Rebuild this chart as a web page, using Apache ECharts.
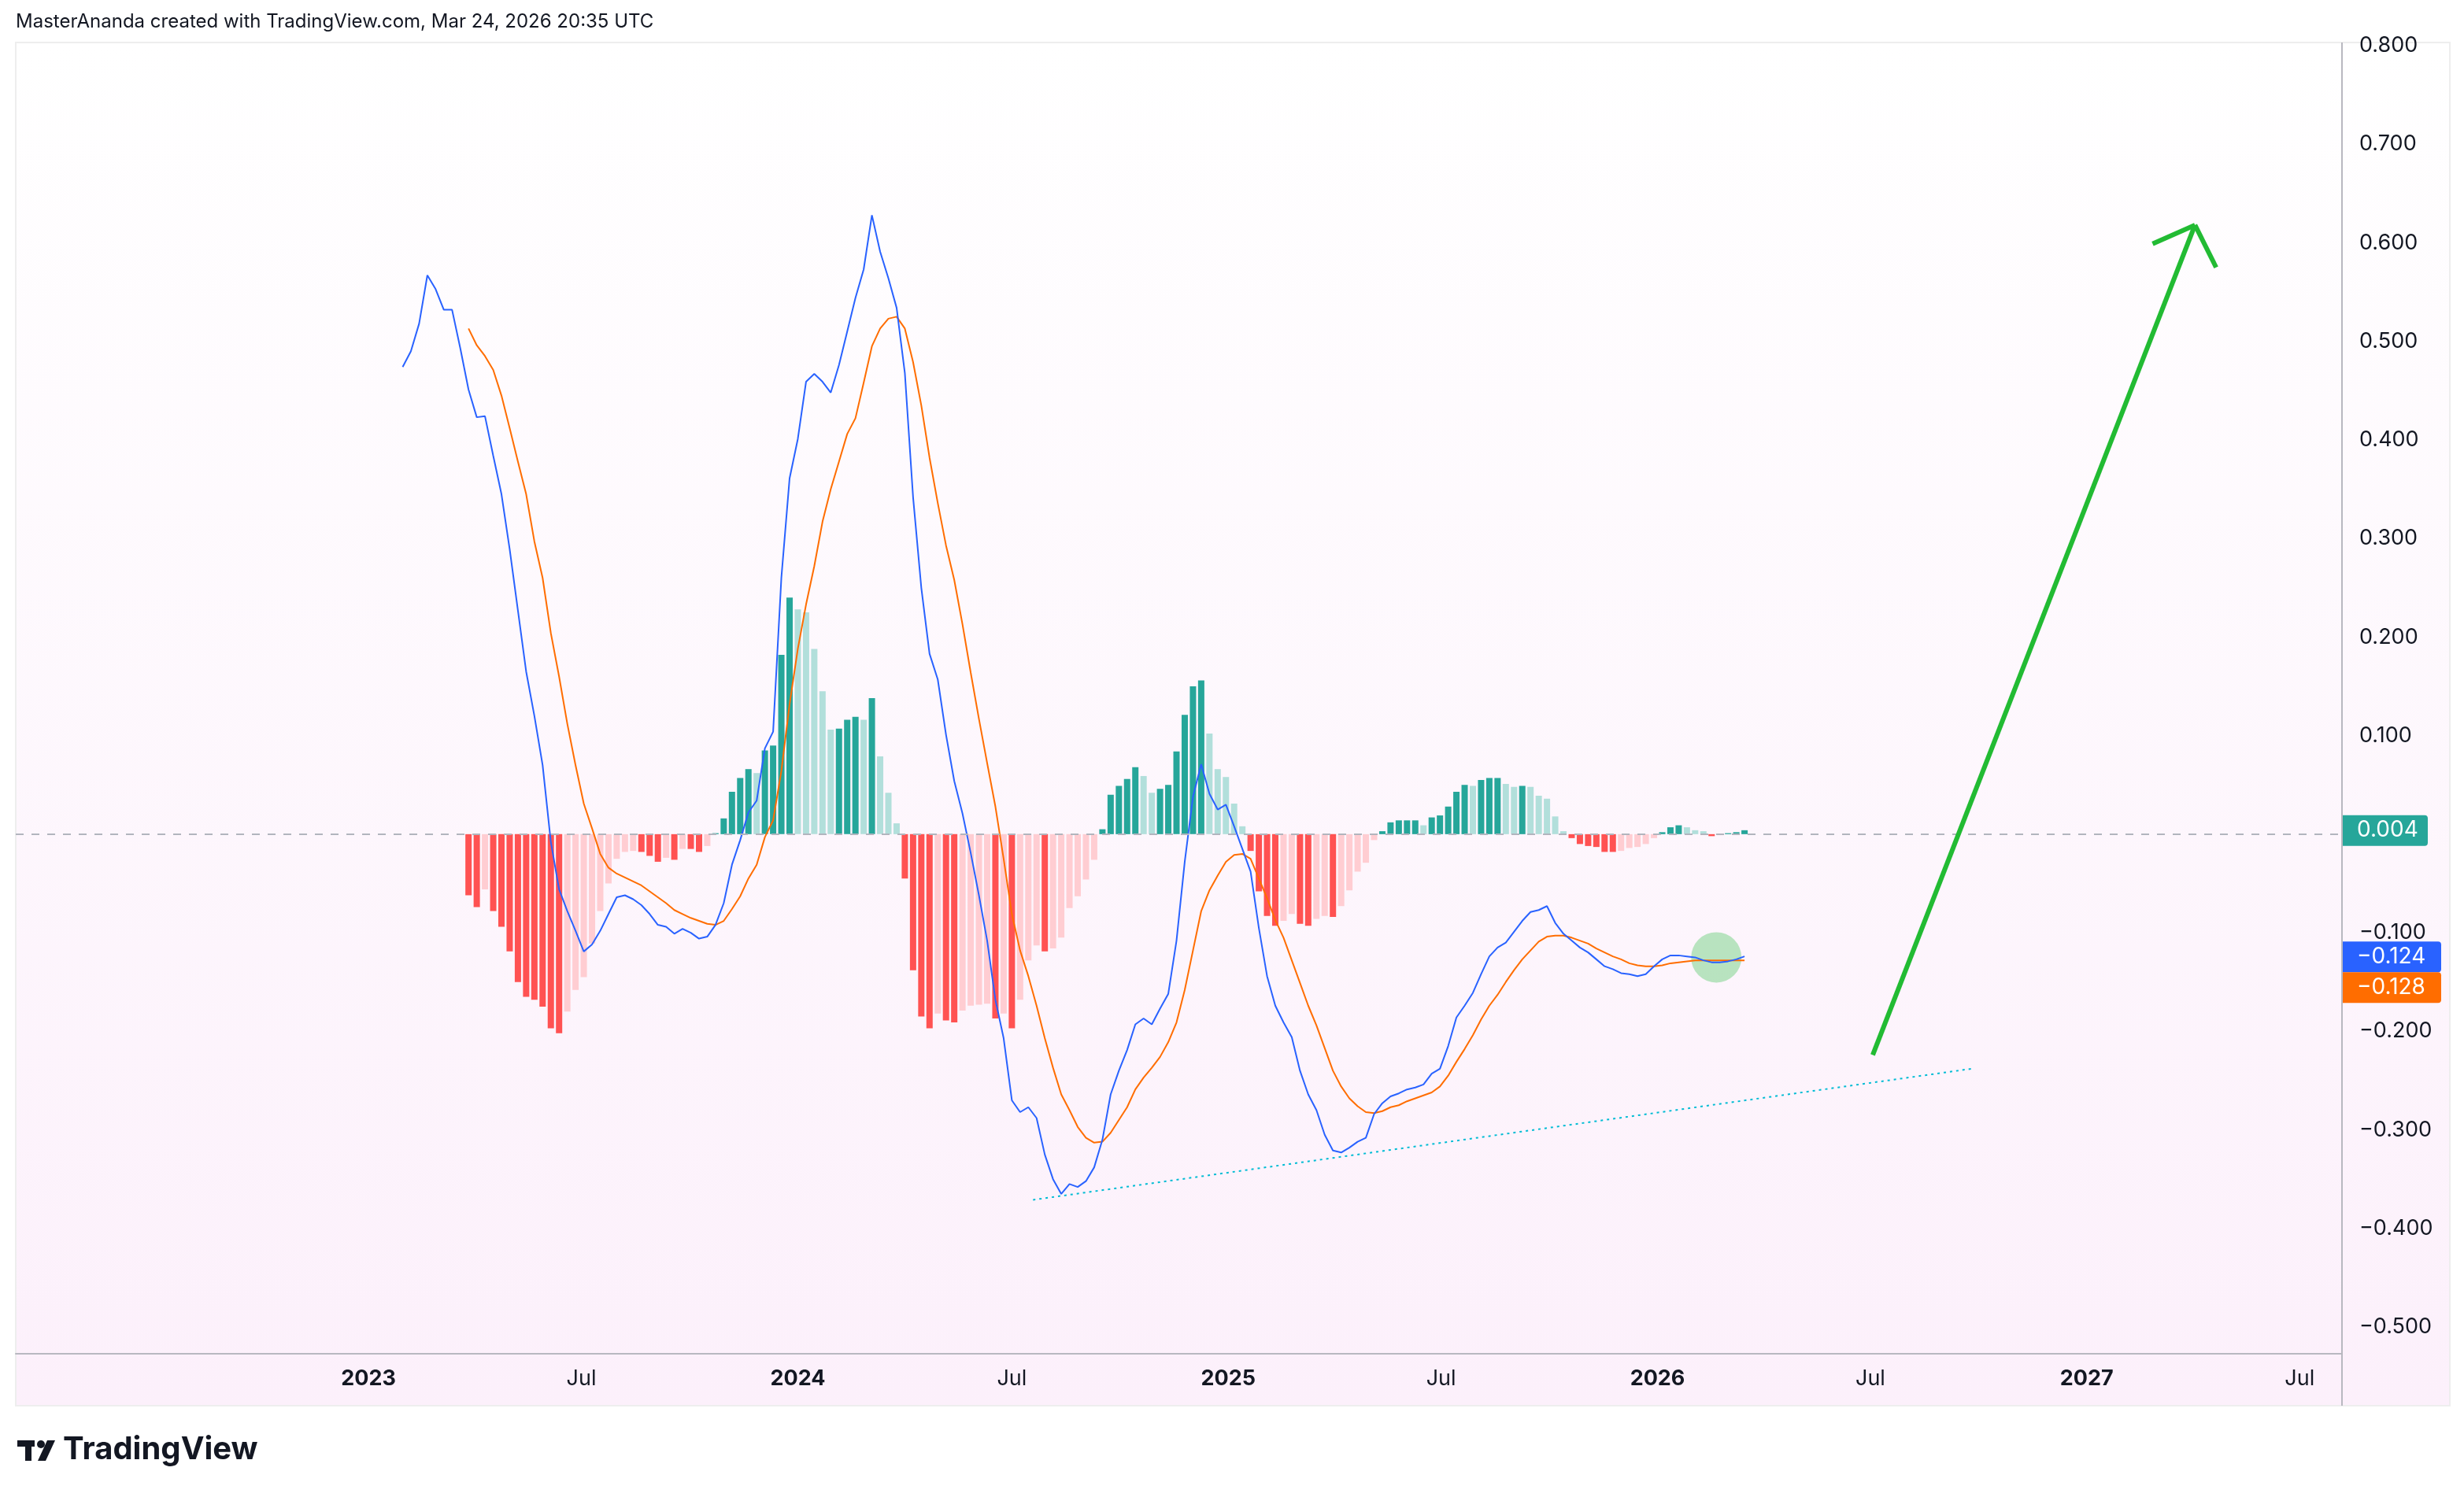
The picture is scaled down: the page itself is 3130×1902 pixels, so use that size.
<!DOCTYPE html>
<html><head><meta charset="utf-8">
<script src="https://cdn.jsdelivr.net/npm/echarts@6/dist/echarts.min.js"></script>
<style>html,body{margin:0;padding:0;background:#fff}#c{width:3130px;height:1902px}</style>
</head><body><div id="c"></div>
<script>
// ---- data (weekly bars starting 2023-01-30) ----
const startDate = '2023-01-30';
const macdLine = [
0.474,0.490,0.518,0.567,0.553,0.532,0.532,0.493,0.451,0.423,
0.424,0.384,0.345,0.289,0.227,0.165,0.120,0.070,-0.008,-0.056,
-0.078,-0.098,-0.119,-0.112,-0.098,-0.081,-0.064,-0.062,-0.066,-0.072,
-0.081,-0.092,-0.094,-0.101,-0.096,-0.100,-0.106,-0.104,-0.092,-0.070,
-0.031,-0.006,0.022,0.034,0.087,0.104,0.260,0.361,0.401,0.459,
0.467,0.459,0.448,0.476,0.510,0.544,0.573,0.628,0.591,0.564,
0.534,0.468,0.342,0.250,0.183,0.157,0.101,0.054,0.021,-0.019,
-0.062,-0.108,-0.168,-0.207,-0.270,-0.282,-0.277,-0.288,-0.325,-0.350,
-0.365,-0.355,-0.358,-0.352,-0.338,-0.310,-0.264,-0.240,-0.219,-0.193,
-0.187,-0.193,-0.177,-0.162,-0.108,-0.028,0.038,0.071,0.041,0.025,
0.030,0.008,-0.015,-0.038,-0.095,-0.144,-0.174,-0.191,-0.206,-0.240,
-0.264,-0.280,-0.305,-0.321,-0.323,-0.318,-0.312,-0.308,-0.284,-0.273,
-0.266,-0.263,-0.259,-0.257,-0.254,-0.243,-0.238,-0.215,-0.186,-0.174,
-0.161,-0.142,-0.124,-0.115,-0.110,-0.099,-0.088,-0.079,-0.077,-0.073,
-0.090,-0.101,-0.108,-0.115,-0.120,-0.127,-0.134,-0.137,-0.141,-0.142,
-0.144,-0.142,-0.134,-0.127,-0.123,-0.123,-0.124,-0.125,-0.128,-0.130,
-0.130,-0.129,-0.127,-0.124
];
const signalLine = [
null,null,null,null,null,null,null,null,0.513,0.496,
0.485,0.471,0.445,0.412,0.378,0.345,0.297,0.260,0.204,0.160,
0.112,0.070,0.031,0.006,-0.020,-0.034,-0.040,-0.044,-0.048,-0.052,
-0.058,-0.064,-0.070,-0.077,-0.081,-0.085,-0.088,-0.091,-0.092,-0.088,
-0.076,-0.063,-0.045,-0.031,-0.003,0.014,0.064,0.132,0.188,0.233,
0.272,0.317,0.350,0.378,0.406,0.422,0.458,0.495,0.513,0.523,
0.525,0.513,0.479,0.435,0.382,0.336,0.293,0.258,0.213,0.164,
0.117,0.072,0.028,-0.025,-0.081,-0.118,-0.144,-0.174,-0.207,-0.237,
-0.264,-0.280,-0.297,-0.308,-0.313,-0.312,-0.303,-0.290,-0.277,-0.259,
-0.247,-0.237,-0.226,-0.211,-0.191,-0.158,-0.118,-0.078,-0.057,-0.042,
-0.028,-0.021,-0.020,-0.025,-0.045,-0.065,-0.087,-0.105,-0.128,-0.151,
-0.174,-0.194,-0.217,-0.240,-0.256,-0.268,-0.276,-0.282,-0.283,-0.281,
-0.277,-0.275,-0.271,-0.268,-0.265,-0.262,-0.256,-0.245,-0.231,-0.218,
-0.204,-0.188,-0.174,-0.163,-0.150,-0.138,-0.127,-0.118,-0.109,-0.104,
-0.103,-0.103,-0.105,-0.108,-0.111,-0.116,-0.120,-0.124,-0.127,-0.131,
-0.133,-0.134,-0.134,-0.133,-0.131,-0.130,-0.129,-0.128,-0.128,-0.128,
-0.128,-0.128,-0.128,-0.128
];
const histogram = [
null,null,null,null,null,null,null,null,-0.062,-0.074,
-0.056,-0.078,-0.094,-0.119,-0.150,-0.165,-0.168,-0.175,-0.197,-0.202,
-0.180,-0.158,-0.145,-0.111,-0.078,-0.050,-0.025,-0.018,-0.017,-0.018,
-0.022,-0.028,-0.024,-0.026,-0.015,-0.015,-0.018,-0.012,0.001,0.016,
0.043,0.057,0.066,0.062,0.085,0.090,0.182,0.240,0.228,0.225,
0.188,0.145,0.106,0.107,0.116,0.119,0.116,0.138,0.079,0.042,
0.011,-0.045,-0.138,-0.185,-0.197,-0.182,-0.189,-0.191,-0.179,-0.174,
-0.173,-0.172,-0.187,-0.182,-0.197,-0.168,-0.128,-0.113,-0.119,-0.116,
-0.105,-0.075,-0.063,-0.046,-0.026,0.005,0.040,0.049,0.056,0.068,
0.059,0.042,0.046,0.050,0.084,0.121,0.150,0.156,0.102,0.066,
0.058,0.031,0.008,-0.017,-0.058,-0.083,-0.093,-0.088,-0.081,-0.091,
-0.093,-0.086,-0.083,-0.084,-0.073,-0.057,-0.038,-0.029,-0.006,0.003,
0.012,0.014,0.014,0.014,0.009,0.017,0.019,0.028,0.043,0.050,
0.049,0.055,0.057,0.057,0.051,0.048,0.049,0.048,0.039,0.036,
0.018,0.003,-0.004,-0.010,-0.012,-0.013,-0.018,-0.018,-0.017,-0.014,
-0.013,-0.010,-0.004,0.002,0.007,0.009,0.007,0.004,0.003,-0.002,
-0.001,0.001,0.002,0.004
];
const xTickDates = ['2023-01-01','2023-07-01','2024-01-01','2024-07-01','2025-01-01','2025-07-01','2026-01-01','2026-07-01','2027-01-01','2027-07-01'];
const xTickLabels = ['2023','Jul','2024','Jul','2025','Jul','2026','Jul','2027','Jul'];
// annotations (data space)
const trendLine = [['2024-07-19',-0.371],['2026-09-25',-0.238]];
const arrowShaft = [['2026-07-03',-0.224],['2027-04-03',0.618]];
const arrowHeadL = [['2027-02-26',0.599],['2027-04-03',0.618]];
const arrowHeadR = [['2027-04-21',0.575],['2027-04-03',0.618]];
const circleMark = ['2026-02-20',-0.125];

const DAY = 86400000;
const ms = d=>Date.parse(d+'T00:00:00Z');
const t0 = ms(startDate);
const dates = macdLine.map((_,i)=>t0+i*7*DAY);
const tickMs = xTickDates.map(ms);

const cDG='#26a69a', cLG='#b2dfdb', cDR='#ff5252', cLR='#ffcdd2';
const histData = [];
histogram.forEach((v,i)=>{
  if(v===null) return;
  const p = histogram[i-1];
  let col;
  if(v>=0) col = (p===null||v>=p)?cDG:cLG;
  else col = (p===null||v<=p)?cDR:cLR;
  histData.push({value:[dates[i],v],itemStyle:{color:col}});
});
const lineData = arr=>{const out=[];arr.forEach((v,i)=>{if(v!==null)out.push([dates[i],v]);});return out;};
const fmtY = v=>{const s=Math.abs(v).toFixed(3);return v< -1e-9?'\u2212'+s:s;};

const chart = echarts.init(document.getElementById('c'));
const FONT = 'Inter, "Liberation Sans", sans-serif';
const arrowStyle={color:'#22bb33',width:6,type:'solid'};
const baseGraphics = [
    {type:'rect',silent:true,z:-10,shape:{x:20,y:54,width:3092,height:1732},
     style:{fill:new echarts.graphic.LinearGradient(0,0,0,1,[{offset:0,color:'#ffffff'},{offset:1,color:'#fcf0fb'}]),stroke:'#eeeeee',lineWidth:2}},
    {type:'line',silent:true,z:5,shape:{x1:2975,y1:54,x2:2975,y2:1786},style:{stroke:'#b8b8c0',lineWidth:2}},
    {type:'text',x:20,y:16,style:{text:'MasterAnanda created with TradingView.com, Mar 24, 2026 20:35 UTC',fill:'#131722',font:'24px '+FONT}},
    {type:'rect',x:22,y:1830,shape:{x:0,y:0,width:22,height:8},style:{fill:'#131722'}},
    {type:'rect',x:32,y:1830,shape:{x:0,y:0,width:8,height:26},style:{fill:'#131722'}},
    {type:'circle',x:52,y:1835,shape:{cx:0,cy:0,r:5},style:{fill:'#131722'}},
    {type:'polygon',shape:{points:[[60,1830],[70,1830],[58,1856],[48,1856]]},style:{fill:'#131722'}},
    {type:'text',x:80,y:1822,style:{text:'TradingView',fill:'#131722',font:'bold 40px '+FONT}}
];
chart.setOption({
  animation:false,
  backgroundColor:'#ffffff',
  textStyle:{fontFamily:FONT},
  grid:{left:20,right:155,top:58,bottom:216,containLabel:false},
  xAxis:{type:'value',min:ms('2022-03-07'),max:ms('2027-08-06'),
    axisLine:{show:true,onZero:false,lineStyle:{color:'#b8b8c0',width:2}},offset:34,
    axisTick:{show:false},splitLine:{show:false},
    axisLabel:{customValues:tickMs,margin:18,fontSize:27,color:'#131722',
      formatter:v=>{const k=tickMs.indexOf(v);const s=k>=0?xTickLabels[k]:'';return /^\d{4}$/.test(s)?'{b|'+s+'}':s;},
      rich:{b:{fontWeight:'bold',fontSize:27,color:'#131722'}}}},
  yAxis:{type:'value',position:'right',min:-0.5,max:0.8,interval:0.1,
    axisLine:{show:false},axisTick:{show:false},splitLine:{show:false},
    axisLabel:{formatter:fmtY,fontSize:27,color:'#131722',margin:22,align:'left'}},
  series:[
    {type:'bar',data:histData,barWidth:8,z:2,
     markLine:{silent:true,symbol:'none',label:{show:false},lineStyle:{color:'#b2b5be',type:[10,10],width:2},data:[{yAxis:0}]}},
    {type:'line',data:lineData(macdLine),showSymbol:false,lineStyle:{color:'#2962ff',width:2},z:4,
     markLine:{silent:true,symbol:'none',label:{show:false},
       data:[
        [{coord:[ms(trendLine[0][0]),trendLine[0][1]],lineStyle:{color:'#00bcd4',width:2,type:[3,5]}},{coord:[ms(trendLine[1][0]),trendLine[1][1]]}],
        [{coord:[ms(arrowShaft[0][0]),arrowShaft[0][1]],lineStyle:arrowStyle},{coord:[ms(arrowShaft[1][0]),arrowShaft[1][1]]}],
        [{coord:[ms(arrowHeadL[0][0]),arrowHeadL[0][1]],lineStyle:arrowStyle},{coord:[ms(arrowHeadL[1][0]),arrowHeadL[1][1]]}],
        [{coord:[ms(arrowHeadR[0][0]),arrowHeadR[0][1]],lineStyle:arrowStyle},{coord:[ms(arrowHeadR[1][0]),arrowHeadR[1][1]]}]
       ]}},
    {type:'line',data:lineData(signalLine),showSymbol:false,lineStyle:{color:'#ff6d00',width:2},z:3},
    {type:'scatter',data:[[ms(circleMark[0]),circleMark[1]]],symbolSize:64,itemStyle:{color:'rgba(80,200,100,0.5)'},z:1}
  ]
});
// price badges on the right scale
const lastI = macdLine.length-1;
const badges = [
  {v:histogram[lastI],c:'#26a69a',w:108},
  {v:macdLine[lastI],c:'#2962ff',w:125},
  {v:signalLine[lastI],c:'#ff6d00',w:125}
];
const extra = [];
let prevBottom = -1;
badges.forEach(b=>{
  let y = chart.convertToPixel({yAxisIndex:0},b.v)-19;
  if(y<prevBottom) y=prevBottom;
  prevBottom=y+39;
  extra.push({type:'rect',z:20,shape:{x:2976,y:y,width:b.w,height:39,r:[0,4,4,0]},style:{fill:b.c}});
  extra.push({type:'text',z:21,x:2994,y:y+5,style:{text:fmtY(b.v),fill:'#ffffff',font:'28px '+FONT}});
});
chart.setOption({graphic:baseGraphics.concat(extra)});
</script></body></html>
